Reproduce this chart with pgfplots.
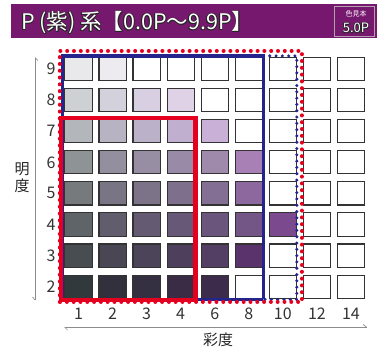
\documentclass[border=0pt]{standalone}
\usepackage{fontspec}
\usepackage{pgfplots}
\usepackage{pgfplotstable}
\pgfplotsset{compat=1.18}
\newfontfamily\cjk{Noto Sans CJK JP}
\setmainfont{Noto Sans CJK JP}
\definecolor{barpurple}{RGB}{118,24,110}
\definecolor{cellstroke}{gray}{0.2}
\definecolor{arrowgray}{gray}{0.55}
\definecolor{redline}{RGB}{228,0,30}
\definecolor{blueline}{RGB}{36,36,140}
\pgfdeclareplotmark{cell}{\pgfpathrectangle{\pgfqpoint{-13.6pt}{-11.6pt}}{\pgfqpoint{27.2pt}{23.2pt}}\pgfusepathqfillstroke}
\newcommand{\otext}[5]{%
  \foreach \dx/\dy in {0.7/0,-0.7/0,0/0.7,0/-0.7,0.5/0.5,-0.5/0.5,0.5/-0.5,-0.5/-0.5}{%
    \node[anchor=#5, text=black!85, font=#3, xshift=\dx pt, yshift=\dy pt, inner sep=0pt] at (#1,#2) {#4};}%
  \node[anchor=#5, text=white, font=#3, inner sep=0pt] at (#1,#2) {#4};}
\pgfplotstableread{
x y r g b
0 9 233 233 236
1 9 238 235 240
2 9 255 255 255
3 9 255 255 255
4 9 255 255 255
5 9 255 255 255
6 9 255 255 255
7 9 255 255 255
8 9 255 255 255
0 8 205 209 212
1 8 211 209 220
2 8 216 208 226
3 8 223 209 230
4 8 255 255 255
5 8 255 255 255
6 8 255 255 255
7 8 255 255 255
8 8 255 255 255
0 7 179 183 187
1 7 183 179 194
2 7 187 177 200
3 7 192 175 207
4 7 200 176 214
5 7 255 255 255
6 7 255 255 255
7 7 255 255 255
8 7 255 255 255
0 6 142 147 150
1 6 148 143 159
2 6 151 142 164
3 6 153 138 168
4 6 160 138 172
5 6 168 128 182
6 6 255 255 255
7 6 255 255 255
8 6 255 255 255
0 5 118 122 124
1 5 122 117 132
2 5 124 115 137
3 5 126 111 141
4 5 132 111 148
5 5 141 104 159
6 5 255 255 255
7 5 255 255 255
8 5 255 255 255
0 4 94 100 104
1 4 97 93 108
2 4 100 91 114
3 4 103 88 119
4 4 106 86 124
5 4 115 85 134
6 4 123 74 142
7 4 255 255 255
8 4 255 255 255
0 3 71 77 80
1 3 74 70 84
2 3 76 68 89
3 3 78 64 93
4 3 82 63 99
5 3 90 51 108
6 3 255 255 255
7 3 255 255 255
8 3 255 255 255
0 2 49 57 60
1 2 50 48 60
2 2 53 47 66
3 2 57 44 68
4 2 60 43 74
5 2 255 255 255
6 2 255 255 255
7 2 255 255 255
8 2 255 255 255
}\cells
\begin{document}
\begin{tikzpicture}
\useasboundingbox (0,0) rectangle (379pt,-352pt);
% title bar
\fill[barpurple] (11pt,-4pt) rectangle (377pt,-38pt);
\draw[gray!70!barpurple!60!white, line width=1pt] (334.5pt,-6.5pt) rectangle (374.5pt,-37pt);
\otext{21pt}{-30pt}{\cjk\fontsize{21.5}{21.5}\selectfont}{P (紫) 系【0.0P～9.9P】}{base west}
\node[text=white, font=\cjk\fontsize{7}{7}\selectfont, inner sep=0pt] at (356pt,-13.5pt) {色見本};
\otext{356pt}{-33pt}{\cjk\fontsize{13}{13}\selectfont}{5.0P}{base}
% axis arrows
\draw[arrowgray, line width=0.7pt] (35pt,-57.7pt) -- (35pt,-300pt);
\draw[arrowgray, line width=0.7pt] (35pt,-57.7pt) -- (37.8pt,-60.5pt);
\draw[arrowgray, line width=0.7pt] (35pt,-300pt) -- (32.5pt,-297pt);
\draw[arrowgray, line width=0.7pt] (64.5pt,-327pt) -- (366.5pt,-327pt);
\draw[arrowgray, line width=0.7pt] (64.5pt,-327pt) -- (67.5pt,-330pt);
\draw[arrowgray, line width=0.7pt] (366.5pt,-327pt) -- (363pt,-324.5pt);
\node[font=\cjk\fontsize{15}{17}\selectfont, align=center, text=black!85, inner sep=0pt] at (22pt,-178pt) {明\\度};
\node[font=\cjk\fontsize{15}{15}\selectfont, text=black!85, inner sep=0pt] at (218pt,-340pt) {彩度};
\begin{axis}[
  at={(58.06pt,-302.25pt)}, anchor=south west,
  x=34.06pt, y=31.1pt,
  xmin=-0.6, xmax=8.6, ymin=1.5, ymax=9.7,
  clip=false, clip mode=individual,
  axis line style={draw=none},
  major tick length=0pt,
  xtick={0,...,8}, xticklabels={1,2,3,4,6,8,10,12,14},
  ytick={2,...,9},
  /pgf/number format/assume math mode=true,
  tick label style={font=\cjk\fontsize{16}{16}\selectfont, text=black!80},
  xticklabel style={anchor=center, yshift=-11.75pt},
  yticklabel style={anchor=center, xshift=-7pt},
]
\addplot[scatter, only marks, mark=cell,
  visualization depends on={\thisrow{r}/255 \as \cR},
  visualization depends on={\thisrow{g}/255 \as \cG},
  visualization depends on={\thisrow{b}/255 \as \cB},
  scatter/@pre marker code/.code={\begingroup\definecolor{cc}{rgb}{\cR,\cG,\cB}\pgfsetfillcolor{cc}\pgfsetstrokecolor{cellstroke}\pgfsetlinewidth{1.1pt}},
  scatter/@post marker code/.code={\endgroup},
] table[x=x, y=y] {\cells};
% blue solid (cols 1-8)
\addplot[blueline, line width=3.4pt, line join=miter] coordinates {(5.43,1.59) (-0.47,1.59) (-0.47,9.42) (5.43,9.42) (5.43,1.59)};
% blue dotted extension (to col 10)
\addplot[blueline, line width=3.4pt, line cap=round, dash pattern=on 0pt off 6.3pt] coordinates {(5.43,9.42) (6.41,9.42) (6.41,1.59) (5.43,1.59)};
% red dotted (whole region)
\addplot[redline, line width=4pt, line cap=round, dash pattern=on 0pt off 6.8pt] coordinates {(-0.55,1.51) (-0.55,9.58) (6.56,9.58) (6.56,1.51) (-0.55,1.51)};
% red solid (cols 1-4, values 2-7)
\addplot[redline, line width=4.6pt, line join=miter] coordinates {(-0.515,1.57) (-0.515,7.43) (3.43,7.43) (3.43,1.57) (-0.515,1.57)};
\end{axis}
\end{tikzpicture}
\end{document}
